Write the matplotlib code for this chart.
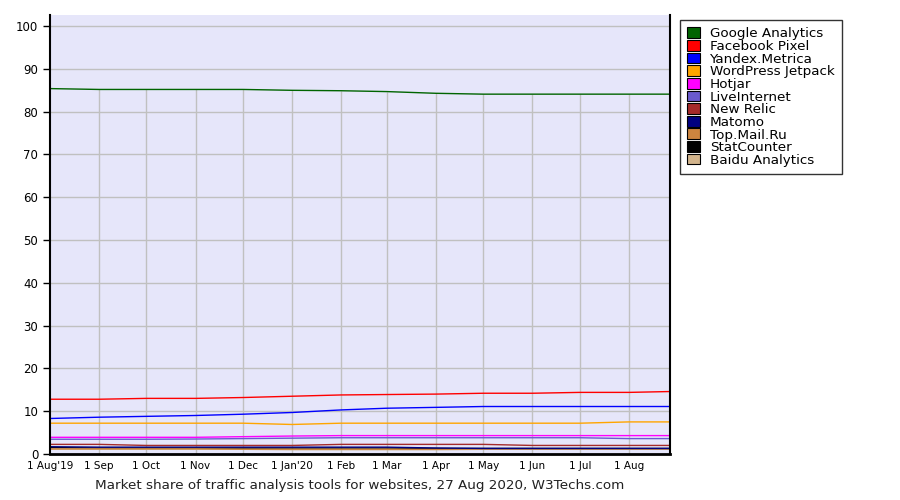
import datetime as dt
import numpy as np
import matplotlib.pyplot as plt
import matplotlib.dates as mdates
from matplotlib.patches import Patch

dates = [dt.date(2019, m, 1) for m in range(8, 13)] + \
        [dt.date(2020, m, 1) for m in range(1, 9)] + [dt.date(2020, 8, 27)]

tick_dates = [dt.date(2019, m, 1) for m in range(8, 13)] + \
             [dt.date(2020, m, 1) for m in range(1, 9)]
tick_labels = ["1 Aug'19", "1 Sep", "1 Oct", "1 Nov", "1 Dec", "1 Jan'20", "1 Feb",
               "1 Mar", "1 Apr", "1 May", "1 Jun", "1 Jul", "1 Aug"]

google = [85.4, 85.2, 85.2, 85.2, 85.2, 85.0, 84.9, 84.7, 84.3, 84.1, 84.1, 84.1, 84.1, 84.1]
facebook = [12.8, 12.8, 13.0, 13.0, 13.2, 13.5, 13.8, 13.9, 14.0, 14.2, 14.2, 14.4, 14.4, 14.6]
yandex = [8.3, 8.6, 8.8, 9.0, 9.3, 9.7, 10.3, 10.7, 10.9, 11.1, 11.1, 11.1, 11.1, 11.1]
jetpack = [7.2, 7.2, 7.2, 7.2, 7.2, 6.9, 7.2, 7.2, 7.2, 7.2, 7.2, 7.2, 7.5, 7.5]
hotjar = [3.9, 3.9, 3.9, 3.9, 4.05, 4.2, 4.3, 4.3, 4.3, 4.3, 4.3, 4.3, 4.3, 4.3]
liveinternet = [3.45, 3.45, 3.45, 3.5, 3.6, 3.7, 3.8, 3.8, 3.8, 3.8, 3.8, 3.8, 3.6, 3.6]
newrelic = [2.25, 2.25, 2.0, 2.0, 2.0, 2.0, 2.25, 2.25, 2.25, 2.25, 2.0, 2.0, 2.0, 2.0]
matomo = [1.7, 1.6, 1.6, 1.6, 1.6, 1.6, 1.6, 1.6, 1.4, 1.3, 1.3, 1.3, 1.3, 1.3]
topmail = [1.2, 1.2, 1.2, 1.2, 1.1, 1.1, 1.1, 1.1, 1.1, 1.2, 1.2, 1.2, 1.2, 1.2]
statcounter = [1.5, 1.4, 1.4, 1.4, 1.4, 1.4, 1.4, 1.4, 1.3, 1.3, 1.3, 1.3, 1.3, 1.3]
baidu = [1.1, 1.1, 1.1, 1.1, 1.1, 1.0, 1.0, 1.0, 1.0, 1.1, 1.1, 1.1, 1.1, 1.1]

names = ["Google Analytics", "Facebook Pixel", "Yandex.Metrica", "WordPress Jetpack",
         "Hotjar", "LiveInternet", "New Relic", "Matomo", "Top.Mail.Ru",
         "StatCounter", "Baidu Analytics"]
series = [google, facebook, yandex, jetpack, hotjar, liveinternet, newrelic,
          matomo, topmail, statcounter, baidu]
colors = ["#006400", "#ff0000", "#0000ff", "#ffa500", "#ff00ff", "#6a5acd",
          "#a52a2a", "#000080", "#cd853f", "#000000", "#d2b48c"]

plt.rcParams['font.family'] = ['DejaVu Sans']

fig = plt.figure(figsize=(9, 5), dpi=100)
ax = fig.add_axes([50/900, 46/500, 620/900, 439/500])
ax.set_facecolor("#e6e6fa")

xd = mdates.date2num(dates)
xt = mdates.date2num(tick_dates)

# horizontal grid across the whole area
for v in range(10, 101, 10):
    ax.axhline(v, color="#c0c0c0", lw=1, zorder=1)
# vertical grid only up to the top series
ax.vlines(xt[1:], 0, np.interp(xt[1:], xd, google), color="#c0c0c0", lw=1, zorder=1)

# draw from bottom so the legend order's top series lies on top
for name, vals, c in reversed(list(zip(names, series, colors))):
    ax.plot(xd, vals, color=c, lw=1, zorder=2)

ax.set_xlim(xd[0], xd[-1])
ax.set_ylim(0, 102.6)
ax.set_yticks(range(0, 101, 10))
ax.set_xticks(xt)
ax.set_xticklabels(tick_labels, fontsize=7.5)
ax.tick_params(axis='y', labelsize=8.5, length=5, width=1, direction='out')
ax.tick_params(axis='x', length=0, pad=5)

ax.spines['top'].set_visible(False)
ax.spines['left'].set_linewidth(1.5)
ax.spines['right'].set_linewidth(1.5)
ax.spines['bottom'].set_linewidth(2)

handles = [Patch(facecolor=c, edgecolor="black", lw=0.8) for c in colors]
leg = fig.legend(handles, names, loc="upper left", bbox_to_anchor=(680/900, 1 - 20/500),
                 frameon=True, fancybox=False, fontsize=9.7, handlelength=0.9,
                 handleheight=0.85, handletextpad=0.75, labelspacing=-0.03,
                 borderpad=0.55, borderaxespad=0)
leg.get_frame().set_edgecolor("black")
leg.get_frame().set_linewidth(1)

fig.text(360/900, 1 - 486/500,
         "Market share of traffic analysis tools for websites, 27 Aug 2020, W3Techs.com",
         ha="center", va="center", fontsize=9.7, color="#222222")

fig.savefig("out.png", dpi=100)
